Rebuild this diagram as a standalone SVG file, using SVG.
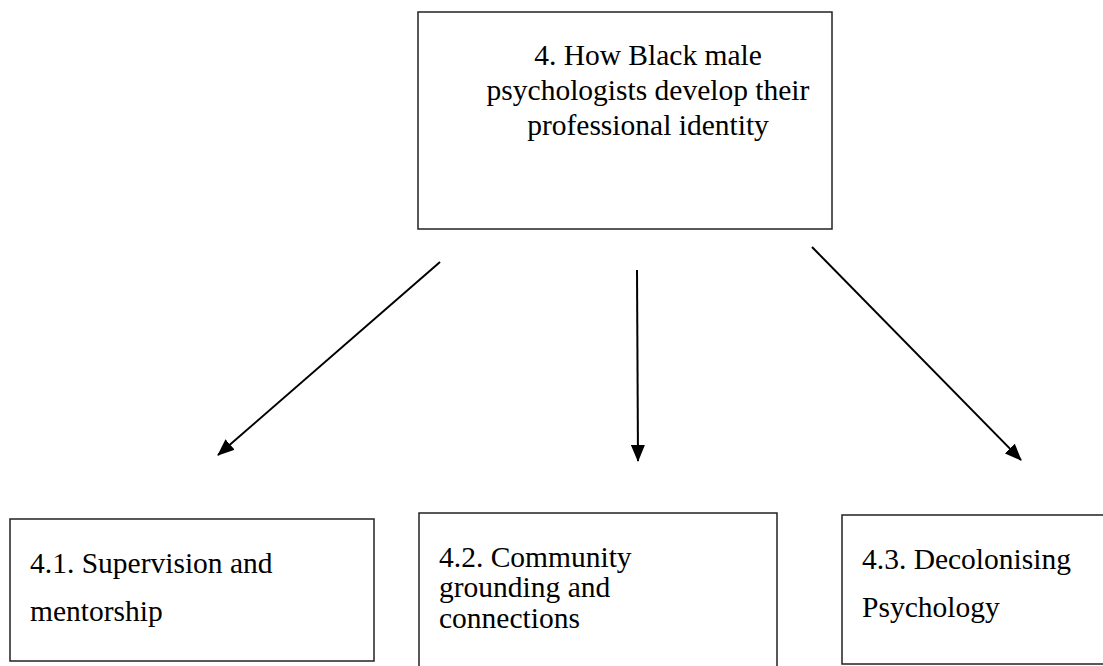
<svg xmlns="http://www.w3.org/2000/svg" width="1103" height="666" viewBox="0 0 1103 666">
<style>
.box{fill:#fff;stroke:#222;stroke-width:1.5}
.t{font-family:"Liberation Serif","Times New Roman",serif;font-size:29.5px;fill:#000}
.c{stroke:#000;stroke-width:2;fill:none}
</style>
<defs>
<marker id="ah" viewBox="0 0 17 14" refX="16" refY="7" markerWidth="17" markerHeight="14" markerUnits="userSpaceOnUse" orient="auto">
<path d="M0,0 L17,7 L0,14 z" fill="#000"/>
</marker>
</defs>
<rect width="1103" height="666" fill="#fff"/>
<g id="n4">
<rect class="box" x="418" y="12" width="414" height="217"/>
<text class="t" text-anchor="middle" x="648" y="65">4. How Black male</text>
<text class="t" text-anchor="middle" x="648" y="100">psychologists develop their</text>
<text class="t" text-anchor="middle" x="648" y="135">professional identity</text>
</g>
<g id="n41">
<rect class="box" x="10" y="519" width="364" height="142"/>
<text class="t" x="30" y="573">4.1. Supervision and</text>
<text class="t" x="30" y="621">mentorship</text>
</g>
<g id="n42">
<path class="box" d="M419,670 L419,513 L777,513 L777,670"/>
<text class="t" x="439" y="567">4.2. Community</text>
<text class="t" x="439" y="597">grounding and</text>
<text class="t" x="439" y="628">connections</text>
</g>
<g id="n43">
<path class="box" d="M1108,515 L842,515 L842,664 L1108,664"/>
<text class="t" x="862" y="569">4.3. Decolonising</text>
<text class="t" x="862" y="617">Psychology</text>
</g>
<g id="connectors">
<line class="c" x1="440" y1="262" x2="218" y2="455" marker-end="url(#ah)"/>
<line class="c" x1="637" y1="270" x2="638" y2="461" marker-end="url(#ah)"/>
<line class="c" x1="812" y1="247" x2="1021" y2="460" marker-end="url(#ah)"/>
</g>
</svg>
